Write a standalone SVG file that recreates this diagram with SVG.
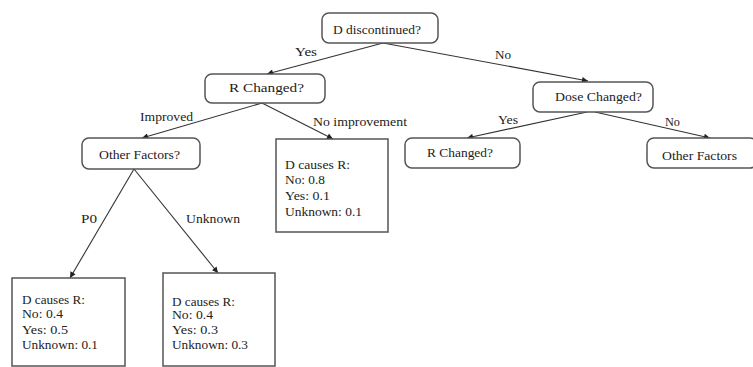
<svg xmlns="http://www.w3.org/2000/svg" width="753" height="367" viewBox="0 0 753 367" font-family="'Liberation Serif', 'DejaVu Serif', serif">
<style>
text{font-family:'Liberation Serif','DejaVu Serif',serif;font-size:12px;fill:#222}
.n{fill:#fff;stroke:#555;stroke-width:1.5}
.e{stroke:#333;stroke-width:1.1;fill:none;marker-end:url(#a)}
</style>
<defs>
<marker id="a" viewBox="0 0 10 10" refX="10" refY="5" markerWidth="7" markerHeight="6" orient="auto" markerUnits="userSpaceOnUse">
<path d="M0,0 L10,5 L0,10 z" fill="#222"/>
</marker>
</defs>
<rect width="753" height="367" fill="#fff"/>
<g id="connectors">
<path class="e" d="M383,43 L267,74"/>
<path class="e" d="M383,43 L588,81"/>
<path class="e" d="M262,103 L142,138"/>
<path class="e" d="M262,103 L333,139"/>
<path class="e" d="M587,112 L467,138"/>
<path class="e" d="M595,112 L710,138"/>
<path class="e" d="M134,169 L70,278"/>
<path class="e" d="M134,169 L218,273"/>
<text font-family="Liberation Serif, serif" x="295" y="56" textLength="22" lengthAdjust="spacingAndGlyphs">Yes</text>
<text font-family="Liberation Serif, serif" x="495" y="59" textLength="16" lengthAdjust="spacingAndGlyphs">No</text>
<text font-family="Liberation Serif, serif" x="140" y="121" textLength="53" lengthAdjust="spacingAndGlyphs">Improved</text>
<text font-family="Liberation Serif, serif" x="313" y="126" textLength="94" lengthAdjust="spacingAndGlyphs">No improvement</text>
<text font-family="Liberation Serif, serif" x="498" y="124" textLength="20" lengthAdjust="spacingAndGlyphs">Yes</text>
<text font-family="Liberation Serif, serif" x="665" y="126" textLength="15" lengthAdjust="spacingAndGlyphs">No</text>
<text font-family="Liberation Serif, serif" x="81" y="223" textLength="16" lengthAdjust="spacingAndGlyphs">P0</text>
<text font-family="Liberation Serif, serif" x="186" y="223" textLength="54" lengthAdjust="spacingAndGlyphs">Unknown</text>
</g>
<g id="n1"><rect class="n" x="322" y="13" width="116" height="30" rx="7"/><text x="333" y="34" textLength="88" lengthAdjust="spacingAndGlyphs">D discontinued?</text></g>
<g id="n2"><rect class="n" x="205" y="74" width="120" height="29" rx="7"/><text x="229" y="92" textLength="75" lengthAdjust="spacingAndGlyphs">R Changed?</text></g>
<g id="n3"><rect class="n" x="533" y="82" width="120" height="30" rx="7"/><text x="555" y="101" textLength="87" lengthAdjust="spacingAndGlyphs">Dose Changed?</text></g>
<g id="n4"><rect class="n" x="405" y="138" width="115" height="30" rx="7"/><text x="427" y="157" textLength="66" lengthAdjust="spacingAndGlyphs">R Changed?</text></g>
<g id="n5"><rect class="n" x="647" y="138" width="110" height="30" rx="7"/><text x="662" y="160" textLength="75" lengthAdjust="spacingAndGlyphs">Other Factors</text></g>
<g id="n6"><rect class="n" x="82" y="138" width="118" height="31" rx="7"/><text x="99" y="159" textLength="81" lengthAdjust="spacingAndGlyphs">Other Factors?</text></g>
<g id="n7"><rect class="n" x="276" y="139" width="112" height="93"/>
<text x="285" y="169" textLength="65" lengthAdjust="spacingAndGlyphs">D causes R:</text>
<text x="285" y="184" textLength="40" lengthAdjust="spacingAndGlyphs">No: 0.8</text>
<text x="285" y="200" textLength="45" lengthAdjust="spacingAndGlyphs">Yes: 0.1</text>
<text x="285" y="216" textLength="77" lengthAdjust="spacingAndGlyphs">Unknown: 0.1</text></g>
<g id="n8"><rect class="n" x="12" y="278" width="113" height="88"/>
<text x="22" y="304" textLength="63" lengthAdjust="spacingAndGlyphs">D causes R:</text>
<text x="22" y="318" textLength="41" lengthAdjust="spacingAndGlyphs">No: 0.4</text>
<text x="22" y="334" textLength="46" lengthAdjust="spacingAndGlyphs">Yes: 0.5</text>
<text x="22" y="349" textLength="76" lengthAdjust="spacingAndGlyphs">Unknown: 0.1</text></g>
<g id="n9"><rect class="n" x="163" y="273" width="112" height="93"/>
<text x="172" y="306" textLength="63" lengthAdjust="spacingAndGlyphs">D causes R:</text>
<text x="172" y="319" textLength="41" lengthAdjust="spacingAndGlyphs">No: 0.4</text>
<text x="172" y="334" textLength="46" lengthAdjust="spacingAndGlyphs">Yes: 0.3</text>
<text x="172" y="349" textLength="76" lengthAdjust="spacingAndGlyphs">Unknown: 0.3</text></g>
</svg>
